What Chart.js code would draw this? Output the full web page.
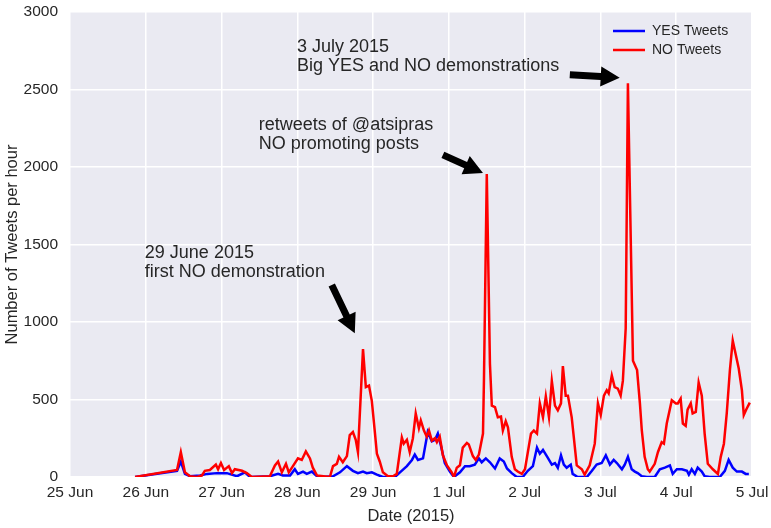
<!DOCTYPE html>
<html>
<head>
<meta charset="utf-8">
<title>YES / NO tweets</title>
<script src="https://cdn.jsdelivr.net/npm/chart.js@4.4.0/dist/chart.umd.min.js"></script>
<style>
  html, body { margin: 0; padding: 0; background: #fff; }
  #wrap { width: 771px; height: 528px; position: relative; }
</style>
</head>
<body>
<div id="wrap"><canvas id="tweets"></canvas></div>
<script>
// hours counted from 25 Jun 00:00, one tick per 24h
const tickLabels = ['25 Jun', '26 Jun', '27 Jun', '28 Jun', '29 Jun', '1 Jul', '2 Jul', '3 Jul', '4 Jul', '5 Jul'];

const yesHours = [20.6, 33.9, 35.1, 36.4, 38.0, 41.2, 43.4, 46.5, 49.7, 52.9, 55.4, 57.0,
  63.3, 65.9, 67.4, 69.7, 71.2, 72.2, 73.8, 75.0, 76.6, 78.2, 79.8, 83.3, 85.5, 87.7, 89.6,
  91.2, 92.8, 94.0, 95.6, 97.2, 99.1, 102.9, 104.5, 106.7, 108.3, 109.2, 110.2, 111.8, 113.3,
  114.6, 115.6, 116.5, 117.5, 118.7, 120.3, 121.6, 123.5, 125.1, 126.6, 128.2, 129.5, 130.4,
  131.7, 133.0, 134.6, 136.1, 137.4, 138.4, 139.9, 141.5, 143.4, 145.0, 146.6, 147.9, 148.8,
  149.8, 151.3, 152.6, 153.6, 154.5, 155.5, 156.4, 157.3, 158.6, 159.2, 160.8, 163.7, 165.3,
  166.8, 168.4, 169.7, 171.0, 172.2, 173.2, 174.8, 175.7, 176.7, 177.9, 178.9, 179.8, 181.1,
  182.7, 185.2, 186.8, 188.4, 190.0, 190.9, 192.2, 193.8, 195.4, 196.0, 196.9, 197.9, 198.8,
  200.1, 201.0, 202.6, 205.8, 207.4, 208.6, 209.9, 211.2, 212.8, 214.0, 215.0];
const yesCounts = [0, 40, 100, 20, 5, 10, 20, 25, 25, 5, 30, 0,
  5, 20, 10, 10, 50, 20, 35, 20, 35, 5, 0, 5, 30, 70, 40,
  25, 35, 25, 30, 15, 0, 0, 30, 70, 110, 145, 110, 120, 290,
  230, 240, 280, 200, 90, 35, 0, 30, 70, 70, 80, 120, 95,
  120, 95, 55, 120, 100, 55, 25, 0, 0, 40, 70, 190, 150,
  175, 125, 80, 90, 60, 140, 80, 60, 80, 20, 0, 0, 40,
  80, 90, 140, 80, 110, 90, 50, 80, 130, 50, 35, 25, 5,
  0, 0, 50, 60, 75, 20, 50, 50, 40, 15, 50, 20, 60,
  35, 5, 0, 0, 40, 110, 60, 35, 35, 20, 20];

const noHours = [20.6, 33.9, 35.1, 36.4, 38.0, 40.2, 41.8, 42.7, 44.3, 46.2, 46.9, 47.8, 48.8,
  50.3, 51.3, 52.2, 54.5, 56.0, 57.6, 63.3, 64.9, 65.9, 67.1, 68.4, 69.3, 70.6, 72.2, 73.4,
  74.7, 76.0, 76.9, 78.2, 82.3, 83.3, 84.5, 85.2, 86.4, 87.7, 88.6, 89.6, 90.5, 91.2, 92.8,
  93.7, 94.7, 95.6, 96.6, 97.2, 98.1, 99.1, 100.7, 102.3, 103.5, 105.1, 105.7, 106.7, 107.6,
  108.6, 109.5, 110.5, 111.1, 112.1, 113.0, 113.7, 114.6, 115.6, 116.2, 117.1, 118.1, 119.4,
  120.9, 121.6, 122.5, 123.5, 124.4, 125.7, 126.3, 127.6, 128.5, 129.5, 130.8, 131.1, 132.0,
  133.0, 133.6, 134.6, 135.5, 136.5, 137.1, 138.0, 138.7, 139.9, 140.9, 141.8, 143.1, 144.1,
  145.0, 146.0, 146.9, 147.9, 148.8, 149.8, 150.7, 151.7, 152.6, 153.6, 154.5, 155.5, 156.1,
  157.0, 157.7, 158.9, 160.5, 162.1, 163.0, 164.6, 166.2, 167.2, 168.1, 169.1, 170.0, 170.6,
  171.6, 172.5, 173.5, 174.4, 175.1, 176.0, 176.7, 178.3, 179.6, 180.5, 181.1, 182.0, 183.0,
  183.6, 185.2, 186.2, 187.4, 188.1, 189.0, 190.6, 191.9, 192.5, 193.4, 194.1, 195.0, 195.6,
  196.6, 197.2, 198.2, 199.1, 200.1, 201.0, 202.0, 203.6, 205.2, 206.1, 207.1, 208.0, 209.0,
  209.9, 210.9, 211.8, 212.8, 213.4, 214.3, 215.3];
const noCounts = [0, 45, 160, 30, 5, 0, 10, 40, 45, 80, 50, 90, 45,
  70, 25, 50, 40, 25, 0, 5, 75, 100, 30, 85, 30, 70, 120, 110,
  165, 120, 60, 10, 0, 70, 85, 130, 95, 135, 270, 290, 240, 160, 825,
  580, 590, 490, 280, 150, 100, 30, 5, 5, 20, 255, 215, 240, 160,
  250, 410, 315, 365, 300, 260, 300, 235, 250, 225, 260, 140, 75,
  30, 0, 60, 75, 190, 220, 210, 135, 110, 145, 280, 620, 1955,
  730, 460, 450, 385, 390, 300, 360, 320, 130, 50, 35, 20, 50,
  160, 280, 300, 280, 475, 385, 520, 385, 620, 460, 430, 475, 715,
  525, 525, 385, 75, 50, 15, 75, 215, 475, 400, 525, 560, 540,
  655, 580, 570, 525, 620, 960, 2540, 750, 690, 475, 300, 130, 50,
  35, 85, 160, 225, 215, 345, 495, 475, 475, 505, 345, 330, 435,
  475, 410, 420, 610, 525, 280, 85, 50, 20, 130, 215, 410, 690,
  880, 785, 700, 560, 400, 440, 480];

// annotations: text anchor, arrow tail and arrow tip in (hour, tweets)
const notes = [
  { lines: ['29 June 2015', 'first NO demonstration'], at: [23.7, 1444], from: [82.9, 1239], to: [90.2, 928] },
  { lines: ['retweets of @atsipras', 'NO promoting posts'], at: [59.8, 2272], from: [118.1, 2078], to: [130.8, 1962] },
  { lines: ['3 July 2015', 'Big YES and NO demonstrations'], at: [71.9, 2776], from: [158.3, 2595], to: [174.1, 2576] }
];

const TXT = '#262626';
Chart.defaults.font.family = '"Liberation Sans", Arial, sans-serif';
Chart.defaults.color = TXT;

function pts(xs, ys) {
  return xs.map((x, i) => ({ x: x, y: ys[i] }));
}

// grey plot background like seaborn darkgrid
const bgPlugin = {
  id: 'bg',
  beforeDraw(chart) {
    const a = chart.chartArea, ctx = chart.ctx;
    ctx.save();
    ctx.fillStyle = '#EAEAF2';
    ctx.fillRect(a.left, a.top, a.right - a.left, a.bottom - a.top);
    ctx.restore();
  }
};

function arrow(ctx, x1, y1, x2, y2) {
  const ang = Math.atan2(y2 - y1, x2 - x1);
  const len = Math.hypot(x2 - x1, y2 - y1);
  const headL = 19, headW = 10, shaft = 3.5;
  ctx.save();
  ctx.translate(x1, y1);
  ctx.rotate(ang);
  ctx.beginPath();
  ctx.moveTo(0, -shaft);
  ctx.lineTo(len - headL, -shaft);
  ctx.lineTo(len - headL, -headW);
  ctx.lineTo(len, 0);
  ctx.lineTo(len - headL, headW);
  ctx.lineTo(len - headL, shaft);
  ctx.lineTo(0, shaft);
  ctx.closePath();
  ctx.fillStyle = '#000';
  ctx.fill();
  ctx.restore();
}

const notePlugin = {
  id: 'notes',
  afterDraw(chart) {
    const ctx = chart.ctx, xs = chart.scales.x, ys = chart.scales.y;
    ctx.save();
    ctx.font = '18px "Liberation Sans", Arial, sans-serif';
    ctx.fillStyle = TXT;
    ctx.textBaseline = 'middle';
    ctx.textAlign = 'left';
    notes.forEach(n => {
      const tx = xs.getPixelForValue(n.at[0]), ty = ys.getPixelForValue(n.at[1]);
      n.lines.forEach((l, i) => ctx.fillText(l, tx, ty + i * 19));
      arrow(ctx, xs.getPixelForValue(n.from[0]), ys.getPixelForValue(n.from[1]),
        xs.getPixelForValue(n.to[0]), ys.getPixelForValue(n.to[1]));
    });

    // legend, top right inside the axes
    const a = chart.chartArea;
    let y = a.top + 19;
    ctx.font = '14px "Liberation Sans", Arial, sans-serif';
    chart.data.datasets.forEach(ds => {
      ctx.strokeStyle = ds.borderColor;
      ctx.lineWidth = ds.borderWidth;
      ctx.beginPath();
      ctx.moveTo(a.right - 139, y);
      ctx.lineTo(a.right - 107, y);
      ctx.stroke();
      ctx.fillStyle = TXT;
      ctx.fillText(ds.label, a.right - 100, y);
      y += 19;
    });
    ctx.restore();
  }
};

new Chart(document.getElementById('tweets'), {
  type: 'line',
  data: {
    datasets: [
      { label: 'YES Tweets', data: pts(yesHours, yesCounts), borderColor: '#0000FF', backgroundColor: '#0000FF',
        borderWidth: 2.5, pointRadius: 0, tension: 0, order: 1 },
      { label: 'NO Tweets', data: pts(noHours, noCounts), borderColor: '#FF0000', backgroundColor: '#FF0000',
        borderWidth: 2.5, pointRadius: 0, tension: 0, order: 0 }
    ]
  },
  options: {
    responsive: true,
    maintainAspectRatio: false,
    animation: false,
    devicePixelRatio: 1,
    layout: { padding: { top: 12, right: 19, left: 0, bottom: 0 } },
    plugins: { legend: { display: false }, tooltip: { enabled: false } },
    scales: {
      x: {
        type: 'linear',
        min: 0,
        max: 216,
        afterFit: s => { s.height = 51; s.paddingLeft = 0; s.paddingRight = 0; },
        grid: { color: '#fff', lineWidth: 1.5, drawTicks: false },
        border: { display: false },
        ticks: {
          stepSize: 24,
          autoSkip: false,
          maxRotation: 0,
          padding: 6,
          font: { size: 15.5 },
          callback: (v, i) => tickLabels[i]
        },
        title: { display: true, text: 'Date (2015)', font: { size: 16.5 }, padding: { top: 0, bottom: 2 } }
      },
      y: {
        min: 0,
        max: 3000,
        afterFit: s => { s.width = 70; s.paddingTop = 0; s.paddingBottom = 0; },
        grid: { color: '#fff', lineWidth: 1.5, drawTicks: false },
        border: { display: false },
        ticks: { stepSize: 500, padding: 12, font: { size: 15.5 }, callback: v => String(v) },
        title: { display: true, text: 'Number of Tweets per hour', font: { size: 16.5 }, padding: { top: 3, bottom: 0 } }
      }
    }
  },
  plugins: [bgPlugin, notePlugin]
});
</script>
</body>
</html>
